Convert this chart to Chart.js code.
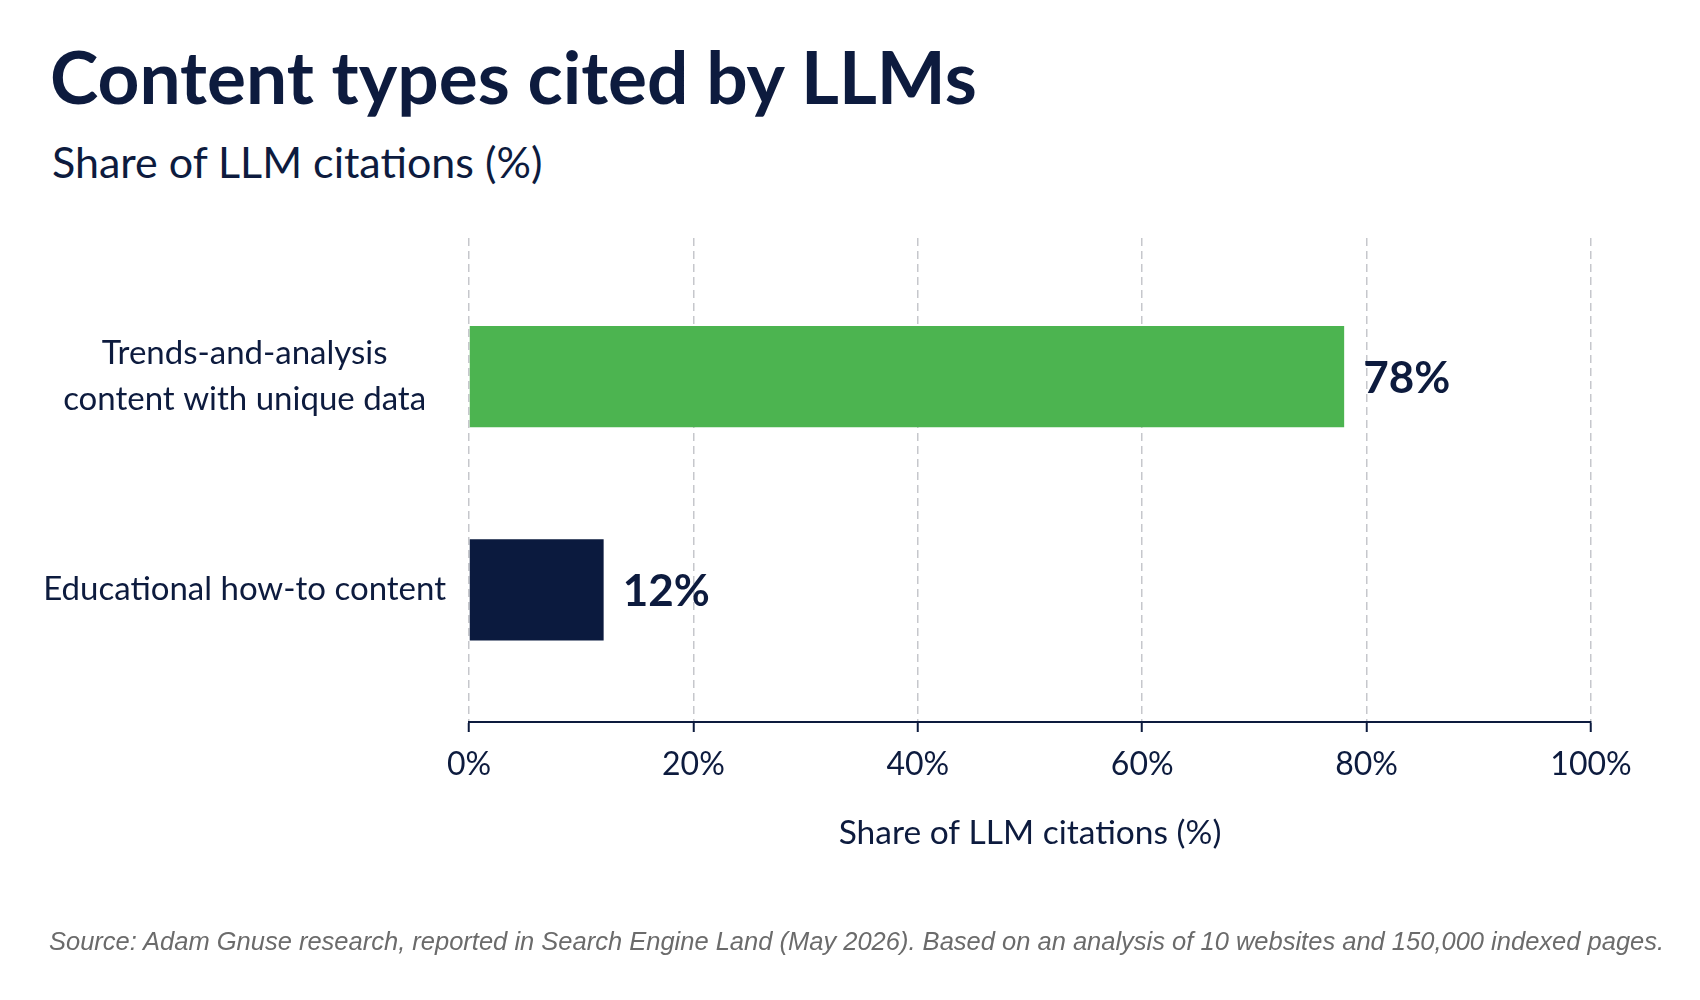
<!DOCTYPE html>
<html>
<head>
<meta charset="utf-8">
<script src="https://cdn.jsdelivr.net/npm/chart.js@4"></script>
<style>
  body { margin: 0; background: #fff; width: 1700px; height: 1000px; overflow: hidden; position: relative; font-family: Lato, sans-serif; color: #0d1b3e; }
  .title { position: absolute; left: 50px; top: 40px; font-size: 73px; font-weight: 700; line-height: 1; }
  .subtitle { position: absolute; left: 52px; top: 140px; font-size: 43px; line-height: 1; }
  .source { position: absolute; left: 49px; top: 927px; font-family: "Liberation Sans", sans-serif; font-style: italic; font-size: 25.5px; color: #6b6b6b; white-space: nowrap; }
  .wrap { position: absolute; left: 0; top: 0; width: 1700px; height: 1000px; }
</style>
</head>
<body>
<div class="title">Content types cited by LLMs</div>
<div class="subtitle">Share of LLM citations (%)</div>
<div class="wrap"><canvas id="chart"></canvas></div>
<div class="source">Source: Adam Gnuse research, reported in Search Engine Land (May 2026). Based on an analysis of 10 websites and 150,000 indexed pages.</div>

<script>
const categories = [['Trends-and-analysis', 'content with unique data'], 'Educational how-to content'];
const shares = [78, 12];
const valueLabels = ['78%', '12%'];
const barColors = ['#4cb450', '#0b1a3e'];
const xTicks = [0, 20, 40, 60, 80, 100];

const navy = '#0d1b3e';

// writes the percentage next to the end of each bar
const barValues = {
  id: 'barValues',
  afterDatasetsDraw(chart) {
    const ctx = chart.ctx;
    const meta = chart.getDatasetMeta(0);
    ctx.save();
    ctx.font = 'bold 44px Lato';
    ctx.fillStyle = navy;
    ctx.textAlign = 'left';
    ctx.textBaseline = 'middle';
    meta.data.forEach((bar, i) => {
      ctx.fillText(valueLabels[i], bar.x + 19, bar.y + 2);
    });
    ctx.restore();
  }
};

const ctx = document.getElementById('chart').getContext('2d');
const chart = new Chart(ctx, {
  type: 'bar',
  data: {
    datasets: [{
      data: shares.map((v, i) => ({ x: v, y: i })),
      backgroundColor: barColors,
      borderWidth: 0,
      barPercentage: 0.475,
      categoryPercentage: 1
    }]
  },
  options: {
    indexAxis: 'y',
    responsive: true,
    maintainAspectRatio: false,
    animation: false,
    layout: { padding: { left: 0, right: 109, top: 238, bottom: 138 } },
    plugins: { legend: { display: false }, tooltip: { enabled: false } },
    scales: {
      x: {
        type: 'linear',
        min: 0,
        max: 100,
        afterBuildTicks: (scale) => { scale.ticks = xTicks.map(v => ({ value: v })); },
        afterFit: (scale) => { scale.height = 140; },
        ticks: {
          padding: 13,
          color: navy,
          font: { family: 'Lato', size: 32 },
          callback: (v) => v + '%'
        },
        grid: {
          color: '#c6c7cc',
          lineWidth: 1.5,
          tickColor: navy,
          tickWidth: 2,
          tickLength: 10,
          tickBorderDash: []
        },
        border: { display: true, color: navy, width: 2, dash: [8, 5] },
        title: {
          display: true,
          text: 'Share of LLM citations (%)',
          color: navy,
          font: { family: 'Lato', size: 33.5 },
          padding: { top: 0, bottom: 9 }
        }
      },
      y: {
        type: 'linear',
        offset: false,
        reverse: true,
        min: -0.65,
        max: 1.62,
        afterBuildTicks: (scale) => { scale.ticks = categories.map((c, i) => ({ value: i })); },
        afterFit: (scale) => { scale.width = 469; },
        ticks: {
          crossAlign: 'center',
          padding: 23,
          color: navy,
          font: { family: 'Lato', size: 33, lineHeight: 1.38 },
          callback: (v) => categories[v]
        },
        grid: { display: false, drawTicks: false, offset: false },
        border: { display: false }
      }
    }
  },
  plugins: [barValues]
});
</script>
</body>
</html>
